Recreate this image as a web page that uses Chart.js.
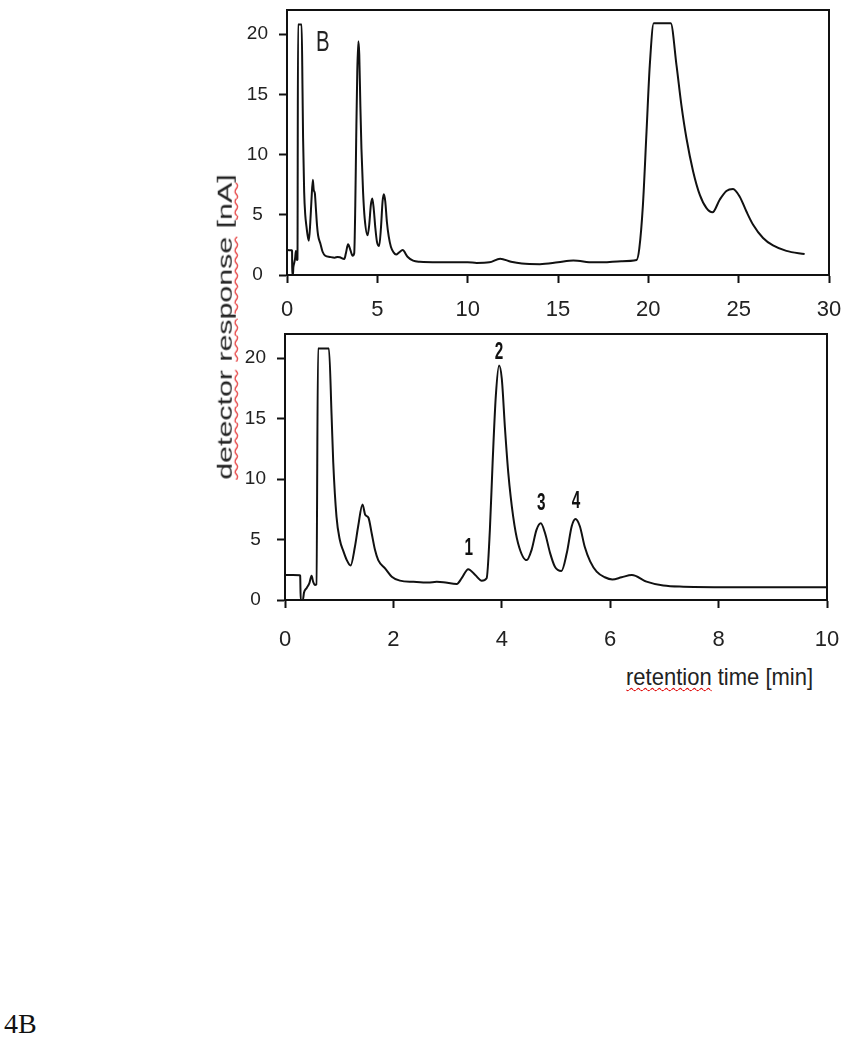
<!DOCTYPE html>
<html>
<head>
<meta charset="utf-8">
<script src="https://cdn.jsdelivr.net/npm/chart.js@4.4.0/dist/chart.umd.min.js"></script>
<style>
  html, body { margin: 0; padding: 0; background: #fff; }
  body { width: 847px; height: 1050px; position: relative; overflow: hidden; font-family: 'Liberation Sans', Arial, sans-serif; }
  canvas { position: absolute; left: 0; }
  #top-chart { top: 0; }
  #bottom-chart { top: 320px; }
  .y-title { position: absolute; left: 224.6px; top: 327px; font-size: 20.5px; line-height: 1; white-space: nowrap; color: #222;
             transform: translate(-50%, -50%) rotate(-90deg) scaleX(1.48); }
  .x-title { position: absolute; left: 626px; top: 667px; font-size: 22px; line-height: 22px; white-space: nowrap; color: #222;
             transform-origin: 0 100%; transform: scale(1.0, 1.08); }
  .spell { text-decoration: underline wavy #e01010; text-decoration-thickness: 1px; text-underline-offset: 2px; }
  .fig-no { position: absolute; left: 4px; top: 1010px; font-family: 'Liberation Serif', serif; font-size: 28px; line-height: 28px; color: #111; }
</style>
</head>
<body>
<canvas id="top-chart" width="847" height="320"></canvas>
<canvas id="bottom-chart" width="847" height="330"></canvas>
<div class="y-title"><span class="spell">detector</span> <span class="spell">response</span> [<span class="spell">nA</span>]</div>
<div class="x-title"><span class="spell">retention</span> time [min]</div>
<div class="fig-no">4B</div>
<script>
// chromatogram, first 10 min (both panels)
const earlyTime = [0.00, 0.27, 0.28, 0.29, 0.33, 0.35, 0.40, 0.45, 0.49, 0.52, 0.55, 0.58, 0.61, 0.81,
                   0.86, 0.89, 0.95, 1.01, 1.08, 1.14, 1.21, 1.29, 1.35, 1.43, 1.48, 1.54, 1.60, 1.66,
                   1.72, 1.85, 1.97, 2.12, 2.37, 2.64, 2.80, 2.92, 3.17, 3.26, 3.38, 3.51, 3.63, 3.72,
                   3.78, 3.83, 3.89, 3.95, 4.00, 4.06, 4.12, 4.21, 4.30, 4.46, 4.55, 4.64, 4.72, 4.80,
                   4.89, 4.98, 5.10, 5.20, 5.29, 5.36, 5.44, 5.53, 5.63, 5.75, 5.90, 6.04, 6.21, 6.40,
                   6.67, 6.98, 7.35, 8.39, 10.0];
const earlyResp = [2.07, 2.05, 2.00, 0.00, 0.00, 0.60, 1.00, 1.40, 2.00, 1.50, 1.25, 1.30, 20.8, 20.8,
                   15.2, 11.4, 6.9, 5.0, 4.0, 3.3, 2.85, 4.4, 6.1, 7.9, 7.05, 6.8, 5.5, 4.15,
                   3.3, 2.6, 1.93, 1.6, 1.5, 1.44, 1.5, 1.47, 1.33, 1.8, 2.55, 2.07, 1.6, 1.8,
                   5.8, 11.3, 16.9, 19.4, 18.3, 14.1, 10.5, 6.9, 4.7, 3.3, 4.15, 5.8, 6.35, 5.5,
                   3.9, 2.75, 2.4, 3.9, 6.1, 6.7, 6.1, 4.4, 3.2, 2.35, 1.88, 1.7, 1.88, 2.07,
                   1.52, 1.19, 1.1, 1.06, 1.06];
// rest of the run (top panel only)
const lateTime = [10.5, 11.2, 11.8, 12.4, 13.0, 14.0, 15.0, 15.85, 16.95, 17.5, 18.5, 19.35, 19.5, 19.7,
                  19.9, 20.08, 20.3, 21.24, 21.56, 21.83, 22.11, 22.48, 22.85, 23.22, 23.55, 23.95, 24.32,
                  24.69, 25.06, 25.43, 25.8, 26.35, 26.9, 27.64, 28.65];
const lateResp = [1.0, 1.05, 1.35, 1.1, 0.95, 0.9, 1.05, 1.2, 1.05, 1.05, 1.15, 1.25, 2.2, 5.8,
                  11.9, 17.4, 20.9, 20.9, 17.4, 14.1, 11.35, 8.6, 6.65, 5.55, 5.2, 6.25, 6.98,
                  7.15, 6.5, 5.27, 4.17, 3.07, 2.45, 2.0, 1.74];

const topXTicks = [0, 5, 10, 15, 20, 25, 30];
const bottomXTicks = [0, 2, 4, 6, 8, 10];
const yTicks = [0, 5, 10, 15, 20];

const peakLabels = ['1', '2', '3', '4'];
const peakTime = [3.39, 3.95, 4.73, 5.37];
const peakLabelLevel = [3.73, 19.9, 7.47, 7.6];

const INK = '#111';
const sans = "'Liberation Sans', Arial, sans-serif";

const toPoints = (ts, vs) => ts.map((t, i) => ({ x: t, y: vs[i] }));

function axis(min, max, ticks, tickOpts, size) {
    return {
        type: 'linear',
        min, max,
        afterBuildTicks: s => { s.ticks = ticks.map(v => ({ value: v })); },
        afterFit: s => {
            if (s.isHorizontal()) s.height = size; else s.width = size;
            s.paddingTop = s.paddingBottom = s.paddingLeft = s.paddingRight = 0;
        },
        grid: { drawOnChartArea: false, drawTicks: true, tickLength: 8, tickWidth: 2, tickColor: INK },
        border: { display: true, color: INK, width: 2 },
        ticks: Object.assign({ color: '#222', autoSkip: false, maxRotation: 0 }, tickOpts)
    };
}

// box round the plot area
const framePlugin = {
    id: 'frame',
    afterDatasetsDraw(chart) {
        const { ctx, chartArea: a } = chart;
        ctx.save();
        ctx.strokeStyle = INK;
        ctx.lineWidth = 2;
        ctx.beginPath();
        ctx.moveTo(a.left, a.bottom);
        ctx.lineTo(a.left, a.top);
        ctx.lineTo(a.right, a.top);
        ctx.lineTo(a.right, a.bottom);
        ctx.stroke();
        ctx.restore();
    }
};

// "B" panel letter (slightly tall, like the scanned figure)
const panelLetter = {
    id: 'panelLetter',
    afterDraw(chart) {
        const { ctx, chartArea: a } = chart;
        ctx.save();
        ctx.fillStyle = '#222';
        ctx.font = "24px " + sans;
        ctx.translate(a.left + 29, 50.5);
        ctx.scale(0.85, 1.2);
        ctx.fillText('B', 0, 0);
        ctx.restore();
    }
};

// peak numbers, placed through the scales
const peakNumbers = {
    id: 'peakNumbers',
    afterDraw(chart) {
        const { ctx, scales } = chart;
        ctx.save();
        ctx.fillStyle = INK;
        ctx.font = "bold 18px " + sans;
        ctx.textAlign = 'center';
        peakLabels.forEach((lab, i) => {
            ctx.save();
            ctx.translate(scales.x.getPixelForValue(peakTime[i]), scales.y.getPixelForValue(peakLabelLevel[i]));
            ctx.scale(0.85, 1.28);
            ctx.fillText(lab, 0, 0);
            ctx.restore();
        });
        ctx.restore();
    }
};

const lineStyle = { borderColor: INK, borderWidth: 2, pointRadius: 0, cubicInterpolationMode: 'monotone', fill: false };
const yTickOpts = { font: { family: sans, size: 19 }, crossAlign: 'center', padding: 11 };

new Chart(document.getElementById('top-chart'), {
    type: 'line',
    data: {
        datasets: [Object.assign({
            data: toPoints(earlyTime.concat(lateTime), earlyResp.concat(lateResp))
        }, lineStyle)]
    },
    options: {
        responsive: false,
        animation: false,
        layout: { padding: { left: 0, right: 18, top: 10, bottom: 0 } },
        plugins: { legend: { display: false }, tooltip: { enabled: false } },
        scales: {
            x: axis(0, 30, topXTicks, { font: { family: sans, size: 22 }, padding: 14 }, 45),
            y: axis(0, 22, yTicks, yTickOpts, 287)
        }
    },
    plugins: [framePlugin, panelLetter]
});

new Chart(document.getElementById('bottom-chart'), {
    type: 'line',
    data: {
        datasets: [Object.assign({ data: toPoints(earlyTime, earlyResp) }, lineStyle)]
    },
    options: {
        responsive: false,
        animation: false,
        layout: { padding: { left: 0, right: 20, top: 14, bottom: 0 } },
        plugins: { legend: { display: false }, tooltip: { enabled: false } },
        scales: {
            x: axis(0, 10, bottomXTicks, { font: { family: sans, size: 22 }, padding: 19 }, 50),
            y: axis(0, 22, yTicks, yTickOpts, 285)
        }
    },
    plugins: [framePlugin, peakNumbers]
});
</script>
</body>
</html>
